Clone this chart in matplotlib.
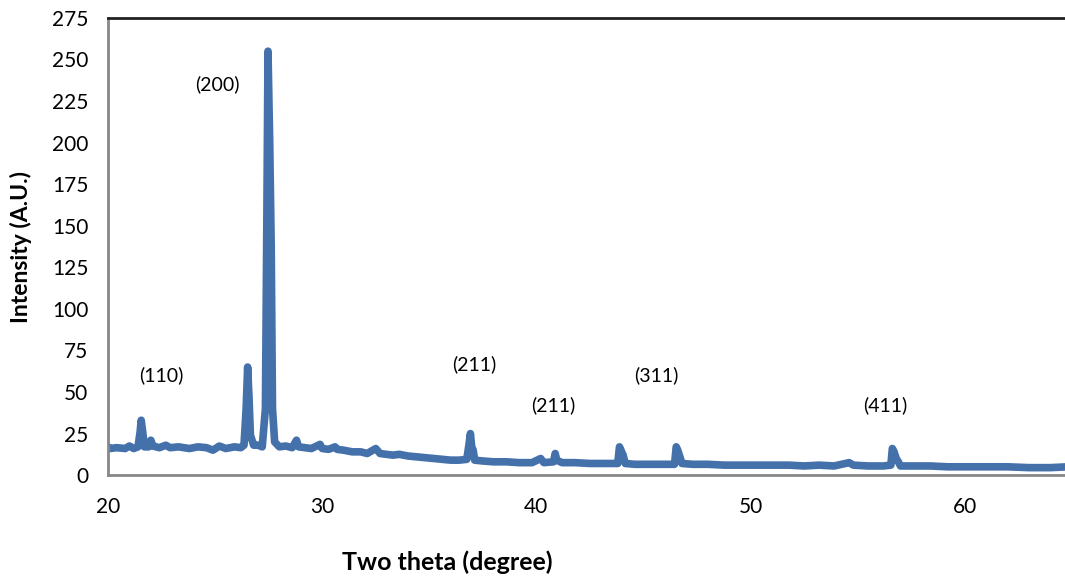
import matplotlib
matplotlib.use("Agg")
import matplotlib.pyplot as plt

# XRD pattern (two theta in degrees, intensity in A.U.)
two_theta = [20.0, 20.1, 20.4, 20.8, 21.0, 21.2, 21.4, 21.5, 21.55, 21.62, 21.7, 21.9, 22.0, 22.1,
             22.4, 22.7, 22.9, 23.3, 23.8, 24.2, 24.6, 24.9, 25.2, 25.5, 25.9, 26.2, 26.35, 26.45,
             26.52, 26.58, 26.65, 26.8, 27.0, 27.2, 27.35, 27.42, 27.47, 27.55, 27.62, 27.68, 27.78,
             28.0, 28.3, 28.6, 28.8, 28.9, 29.2, 29.5, 29.9, 30.0, 30.3, 30.6, 30.7, 31.0, 31.4, 31.8,
             32.1, 32.5, 32.7, 33.0, 33.3, 33.6, 34.0, 34.4, 34.8, 35.2, 35.6, 36.0, 36.4, 36.75, 36.85,
             36.92, 36.98, 37.05, 37.12, 37.5, 38.0, 38.6, 39.2, 39.8, 40.2, 40.35, 40.8, 40.88, 40.95,
             41.2, 41.8, 42.5, 43.2, 43.8, 43.88, 43.95, 44.05, 44.15, 44.6, 45.2, 45.8, 46.45, 46.53,
             46.6, 46.7, 46.8, 47.3, 48.0, 48.8, 49.5, 50.2, 51.0, 51.8, 52.5, 53.2, 53.9, 54.6, 54.8,
             55.5, 56.2, 56.55, 56.62, 56.7, 56.8, 56.9, 57.0, 57.6, 58.4, 59.2, 60.0, 61.0, 62.0, 63.0,
             64.0, 64.8]
intensity = [17, 16, 16.5, 16, 17.5, 16, 17, 26, 33, 26, 17, 17, 21, 17.5,
             16.5, 18, 16.5, 17, 16, 17, 16.5, 15, 17.5, 16, 17, 16.5, 18, 40,
             65, 48, 24, 18, 18, 17, 40, 160, 255, 200, 138, 40, 20,
             17, 17.5, 16.5, 21, 17, 16.5, 16, 18.5, 16, 15.5, 17, 15.5, 15, 14, 14,
             13, 16, 13, 12.5, 12, 12.5, 11.5, 11, 10.5, 10, 9.5, 9, 9, 9.5, 18,
             25, 17, 15, 9, 8.5, 8, 8, 7.5, 7.5, 10, 7.5, 8, 13, 9,
             7.5, 7.5, 7, 7, 7, 17, 15, 12, 7, 6.5, 6.5, 6.5, 6.5, 17,
             15, 11, 7, 6.5, 6.5, 6, 6, 6, 6, 6, 5.5, 6, 5.5, 7.5, 6,
             5.5, 5.5, 6, 16, 14, 10, 8, 5.5, 5.5, 5.5, 5, 5, 5, 5, 4.5,
             4.5, 5]

# peak labels and where they sit
peak_labels = ["(110)", "(200)", "(211)", "(211)", "(311)", "(411)"]
label_x = [22.5, 25.1, 37.1, 40.8, 45.6, 56.3]
label_y = [60, 235, 67, 42, 60, 42]

plt.rcParams['font.family'] = ['Lato', 'DejaVu Sans']

fig = plt.figure(figsize=(10.65, 5.78), dpi=100)
ax = fig.add_axes([0.1014, 0.178, 0.9, 0.791])

ax.plot(two_theta, intensity, color='#4571AB', lw=5.5,
        solid_joinstyle='round', solid_capstyle='round')

for txt, x, y in zip(peak_labels, label_x, label_y):
    ax.text(x, y, txt, ha='center', va='center', fontsize=14)

ax.set_xlim(20, 64.75)
ax.set_ylim(0, 275)
ax.set_xticks([20, 30, 40, 50, 60])
ax.set_yticks(range(0, 276, 25))
ax.tick_params(length=0, labelsize=15)
ax.tick_params(axis='y', pad=14)
ax.tick_params(axis='x', pad=16)

for side in ['left', 'bottom']:
    ax.spines[side].set_color('#888888')
    ax.spines[side].set_linewidth(2)
ax.spines['top'].set_color('#222222')
ax.spines['top'].set_linewidth(2)
ax.spines['right'].set_visible(False)

ax.set_xlabel('Two theta (degree)', fontsize=18, fontweight='bold')
ax.xaxis.set_label_coords(0.354, -0.165)
ax.set_ylabel('Intensity (A.U.)', fontsize=16.5, fontweight='bold')
ax.yaxis.set_label_coords(-0.079, 0.5)

fig.savefig('out.png', dpi=100)
